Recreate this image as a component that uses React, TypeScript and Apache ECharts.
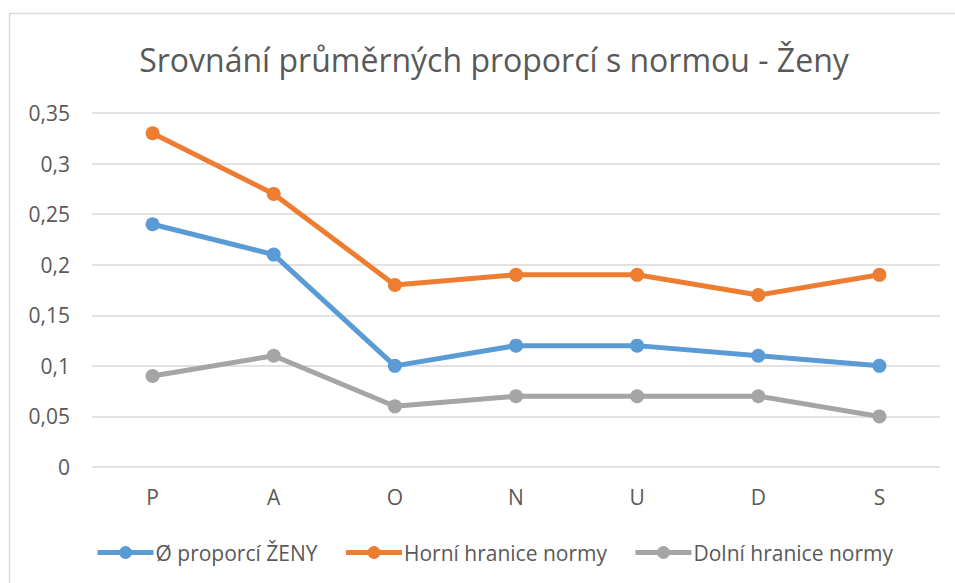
import React, { useEffect, useRef } from "react";
import * as echarts from "echarts";

const categories = ["P", "A", "O", "N", "U", "D", "S"];
const prumerZeny = [0.24, 0.21, 0.1, 0.12, 0.12, 0.11, 0.1];
const horniHranice = [0.33, 0.27, 0.18, 0.19, 0.19, 0.17, 0.19];
const dolniHranice = [0.09, 0.11, 0.06, 0.07, 0.07, 0.07, 0.05];
const seriesNames = ["Ø proporcí ŽENY", "Horní hranice normy", "Dolní hranice normy"];
const colors = ["#5B9BD5", "#ED7D31", "#A5A5A5"];

const FONT = "'Open Sans', 'Noto Sans', sans-serif";
const TXT = "#595959";

export default function App() {
  const ref = useRef<HTMLDivElement>(null);
  useEffect(() => {
    if (!ref.current) return;
    const chart = echarts.init(ref.current, null, { renderer: "svg" });
    const mk = (name: string, data: number[], color: string) => ({
      name,
      type: "line",
      data,
      symbol: "circle",
      symbolSize: 14,
      lineStyle: { width: 5, color },
      itemStyle: { color },
      emphasis: { disabled: true },
    });
    chart.setOption({
      animation: false,
      textStyle: { fontFamily: FONT },
      title: {
        text: "Srovnání průměrných proporcí s normou - Ženy",
        left: 489,
        top: 38,
        textAlign: "center",
        textStyle: { fontFamily: FONT, fontSize: 32, fontWeight: "normal", color: TXT },
      },
      graphic: [
        {
          type: "rect",
          shape: { x: 9.5, y: 13.5, width: 1000, height: 700 },
          style: { fill: "none", stroke: "#D9D9D9", lineWidth: 1.5 },
          silent: true,
        },
      ],
      legend: {
        left: 90,
        top: 537,
        itemWidth: 56,
        itemHeight: 16,
        itemGap: 26,
        lineStyle: { width: 5 },
        textStyle: { fontFamily: FONT, fontSize: 21, color: TXT, padding: [0, 0, 0, -3] },
        data: seriesNames,
      },
      grid: { left: 92, right: 15, top: 113, bottom: 116, containLabel: false },
      xAxis: {
        type: "category",
        data: categories,
        boundaryGap: true,
        axisLine: { show: false },
        axisTick: { show: false },
        axisLabel: { color: TXT, fontSize: 21, margin: 19, fontFamily: FONT },
      },
      yAxis: {
        type: "value",
        min: 0,
        max: 0.35,
        interval: 0.05,
        axisLine: { show: false },
        axisTick: { show: false },
        splitLine: { lineStyle: { color: "#D9D9D9", width: 1.5 } },
        axisLabel: {
          color: TXT,
          fontSize: 21,
          margin: 22,
          fontFamily: FONT,
          formatter: (v: number) => String(Math.round(v * 100) / 100).replace(".", ","),
        },
      },
      series: [
        mk(seriesNames[0], prumerZeny, colors[0]),
        mk(seriesNames[1], horniHranice, colors[1]),
        mk(seriesNames[2], dolniHranice, colors[2]),
      ],
    });
    return () => chart.dispose();
  }, []);
  return (
    <div
      ref={ref}
      style={{ position: "fixed", left: 0, top: 0, width: 955, height: 583, background: "#fff" }}
    />
  );
}
